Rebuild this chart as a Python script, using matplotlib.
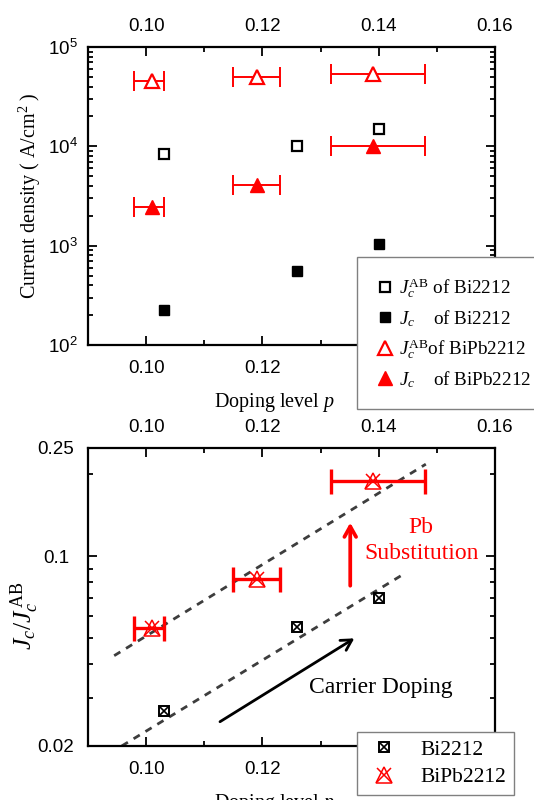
import numpy as np
import matplotlib
matplotlib.use('Agg')
import matplotlib.pyplot as plt
import matplotlib.transforms as mtransforms
from matplotlib.ticker import MultipleLocator, FixedLocator, FixedFormatter, NullFormatter, LogLocator
from matplotlib.legend_handler import HandlerTuple

plt.rcParams['font.family'] = ['Liberation Serif', 'DejaVu Serif']
plt.rcParams['mathtext.fontset'] = 'custom'
plt.rcParams['mathtext.rm'] = 'Liberation Serif'
plt.rcParams['mathtext.it'] = 'Liberation Serif:italic'
plt.rcParams['mathtext.bf'] = 'Liberation Serif:bold'

# Bi2212
p_bi = [0.103, 0.126, 0.140]
jcab_bi = [8350, 10100, 14800]
jc_bi = [225, 553, 1040]

# BiPb2212 (doping level with asymmetric uncertainty)
p_pb = [0.101, 0.119, 0.139]
p_pb_lo = [0.0031, 0.0041, 0.0072]
p_pb_hi = [0.0020, 0.0040, 0.0090]
jcab_pb = [45000, 49900, 53000]
jc_pb = [2440, 4100, 10050]

# guide lines for the ratio plot
guide_pb_x = [0.0945, 0.1481]
guide_pb_y = [0.043, 0.218]
guide_bi_x = [0.0958, 0.1443]
guide_bi_y = [0.0200, 0.0859]

ratio_bi = np.array(jc_bi) / np.array(jcab_bi)
ratio_pb = np.array(jc_pb) / np.array(jcab_pb)
xerr_pb = [p_pb_lo, p_pb_hi]

RED = '#ff0000'

fig = plt.figure(figsize=(5.34, 8), dpi=100)
ax1 = fig.add_axes([0.1648, 0.56875, 0.7622, 0.3725])
ax2 = fig.add_axes([0.1648, 0.0675, 0.7622, 0.3725])


def style_axes(ax, ylab_pad):
    ax.set_xlim(0.09, 0.16)
    ax.xaxis.set_major_locator(FixedLocator([0.10, 0.12, 0.14, 0.16]))
    ax.xaxis.set_major_formatter(FixedFormatter(['0.10', '0.12', '0.14', '0.16']))
    ax.xaxis.set_minor_locator(MultipleLocator(0.01))
    ax.tick_params(which='both', direction='in', top=True, right=True,
                   labeltop=True, width=1.3)
    ax.tick_params(which='major', length=6.5)
    ax.tick_params(which='minor', length=3.5)
    ax.tick_params(axis='x', which='major', pad=11)
    ax.tick_params(axis='y', which='major', pad=ylab_pad)
    for lab in ax.get_xticklabels() + ax.get_yticklabels():
        lab.set_fontfamily('Liberation Sans')
        lab.set_fontsize(13.5)
    for lab in ax.get_yticklabels():
        lab.set_horizontalalignment('center')
    # top labels sit a little closer to the frame
    drop = mtransforms.ScaledTranslation(0, -2.5 / 72, fig.dpi_scale_trans)
    for t in ax.xaxis.get_major_ticks():
        t.label2.set_transform(t.label2.get_transform() + drop)
    for sp in ax.spines.values():
        sp.set_linewidth(1.6)
    ax.set_xlabel('Doping level $p$', fontsize=14.5)
    ax.xaxis.set_label_coords(0.459, -0.155)


# ---- top: current densities ----
ax1.set_yscale('log')
ax1.set_ylim(1e2, 1e5)
ax1.yaxis.set_minor_locator(LogLocator(base=10, subs=np.arange(2, 10)))
ax1.yaxis.set_minor_formatter(NullFormatter())

h1, = ax1.plot(p_bi, jcab_bi, 's', ms=7, mfc='white', mec='black', mew=1.6, ls='none')
h2, = ax1.plot(p_bi, jc_bi, 's', ms=7.5, mfc='black', mec='black', ls='none')
ax1.errorbar(p_pb, jcab_pb, xerr=xerr_pb, fmt='none', ecolor=RED, elinewidth=1.4,
             capsize=7, capthick=1.4)
ax1.errorbar(p_pb, jc_pb, xerr=xerr_pb, fmt='none', ecolor=RED, elinewidth=1.4,
             capsize=7, capthick=1.4)
h3, = ax1.plot(p_pb, jcab_pb, '^', ms=9.5, mfc='white', mec=RED, mew=1.6, ls='none', zorder=3)
h4, = ax1.plot(p_pb, jc_pb, '^', ms=9.5, mfc=RED, mec=RED, ls='none', zorder=3)

style_axes(ax1, 18)
ax1.set_ylabel('Current density ( A/cm$^{2}$ )', fontsize=14.5)
ax1.yaxis.set_label_coords(-0.11, 0.5)

leg1 = ax1.legend([h1, h2, h3, h4],
                  [r'$J_c^{\mathrm{AB}}$ of Bi2212', r'$J_c$    of Bi2212',
                   r'$J_c^{\mathrm{AB}}$of BiPb2212', r'$J_c$    of BiPb2212'],
                  loc='upper left', bbox_to_anchor=(357 / 534, 1 - 257 / 800),
                  bbox_transform=fig.transFigure, borderaxespad=0, fontsize=13.8,
                  frameon=True, fancybox=False, edgecolor='#808080', framealpha=1,
                  handlelength=0.9, handletextpad=0.3, borderpad=1.0, labelspacing=0.42)
leg1.get_frame().set_linewidth(1.0)
leg1.set_zorder(10)

# ---- bottom: Jc / Jc^AB ----
ax2.set_yscale('log')
ax2.set_ylim(0.02, 0.25)
ax2.yaxis.set_major_locator(FixedLocator([0.02, 0.1, 0.25]))
ax2.yaxis.set_major_formatter(FixedFormatter(['0.02', '0.1', '0.25']))
ax2.yaxis.set_minor_locator(LogLocator(base=10, subs=np.arange(2, 10)))
ax2.yaxis.set_minor_formatter(NullFormatter())

ax2.plot(guide_pb_x, guide_pb_y, color='#3d3d3d', lw=2.0, ls=(0, (2.6, 2.4)))
ax2.plot(guide_bi_x, guide_bi_y, color='#3d3d3d', lw=2.0, ls=(0, (2.6, 2.4)))

ax2.errorbar(p_pb, ratio_pb, xerr=xerr_pb, fmt='none', ecolor=RED, elinewidth=2.4,
             capsize=9, capthick=2.4)
b1, = ax2.plot(p_bi, ratio_bi, 's', ms=7, mfc='white', mec='black', mew=1.4, ls='none')
b2, = ax2.plot(p_bi, ratio_bi, 'x', ms=5.5, mec='black', mew=1.2, ls='none')
r1, = ax2.plot(p_pb, ratio_pb, '^', ms=11.5, mfc='none', mec=RED, mew=1.1, ls='none', zorder=4)
r2, = ax2.plot(p_pb, ratio_pb, 'x', ms=10, mec=RED, mew=1.1, ls='none', zorder=4)

ax2.annotate('', xy=(0.1351, 0.1328), xytext=(0.1351, 0.0778),
             arrowprops=dict(arrowstyle='->,head_length=0.75,head_width=0.42',
                             color=RED, lw=2.7, shrinkA=0, shrinkB=0))
ax2.annotate('', xy=(0.1358, 0.0498), xytext=(0.1127, 0.02457),
             arrowprops=dict(arrowstyle='->,head_length=0.75,head_width=0.42',
                             color='black', lw=2.0, shrinkA=0, shrinkB=0))
ax2.text(0.1473, 0.69, 'Pb\nSubstitution', color=RED, fontsize=17,
         ha='center', va='center', multialignment='center', linespacing=1.3,
         transform=ax2.get_xaxis_transform())
ax2.text(0.1403, 0.195, 'Carrier Doping', color='black', fontsize=17,
         ha='center', va='center', transform=ax2.get_xaxis_transform())

style_axes(ax2, 23)
ax2.set_ylabel(r'$J_c/J_c^{\,\mathrm{AB}}$', fontsize=18.5)
ax2.yaxis.set_label_coords(-0.115, 0.436)

leg2 = ax2.legend([(b1, b2), (r1, r2)], ['Bi2212', 'BiPb2212'],
                  handler_map={tuple: HandlerTuple(ndivide=1)},
                  loc='upper left', bbox_to_anchor=(357 / 534, 1 - 732 / 800),
                  bbox_transform=fig.transFigure, borderaxespad=0, fontsize=15.5,
                  frameon=True, fancybox=False, edgecolor='#808080', framealpha=1,
                  handlelength=1.8, handletextpad=0.8, borderpad=0.35, labelspacing=0.35)
leg2.get_frame().set_linewidth(1.0)
leg2.set_zorder(10)

fig.savefig('out.png', dpi=100)
